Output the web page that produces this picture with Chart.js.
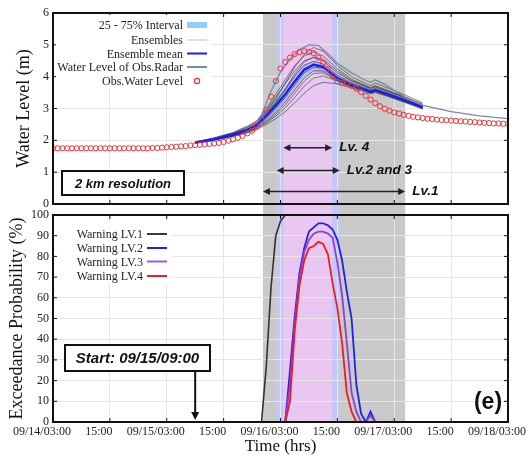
<!DOCTYPE html>
<html>
<head>
<meta charset="utf-8">
<script src="https://cdn.jsdelivr.net/npm/chart.js@4.4.0/dist/chart.umd.min.js"></script>
<style>
  html, body { margin: 0; padding: 0; background: #fff; }
  #wrap { position: relative; width: 530px; height: 459px; overflow: hidden; }
  #top { position: absolute; left: 0; top: 0; }
  #bot { position: absolute; left: 0; top: 206px; }
</style>
</head>
<body>
<div id="wrap">
  <canvas id="top" width="530" height="209"></canvas>
  <canvas id="bot" width="530" height="253"></canvas>
</div>
<script>
// time axis: hours after 09/14 03:00
const tickLabels = ["09/14/03:00", "15:00", "09/15/03:00", "15:00", "09/16/03:00", "15:00", "09/17/03:00", "15:00", "09/18/03:00"];
const forecastStart = 30; // 09/15 09:00

// warning periods (hours)
const lv1Band = [44.3, 74.3];
const lv23Band = [47.2, 60.5];
const lv4Band = [48.6, 58.9];

// observed water level, hourly from hour 0
const obsHours = Array.from({ length: 97 }, (_, i) => i);
const obsWater = [
  1.75, 1.75, 1.75, 1.75, 1.75, 1.75, 1.75, 1.75, 1.75, 1.75, 1.75, 1.75, 1.75, 1.75, 1.75, 1.75, 1.75, 1.75, 1.75, 1.75, 1.75,
  1.76, 1.76, 1.77, 1.78, 1.79, 1.80, 1.81, 1.82, 1.84, 1.85, 1.86, 1.87, 1.89, 1.90, 1.92, 1.95, 1.99, 2.03, 2.08, 2.14,
  2.22, 2.30, 2.45, 2.65, 2.95, 3.37, 3.86, 4.26, 4.46, 4.60, 4.71, 4.77, 4.80, 4.78, 4.74, 4.60, 4.43, 4.25, 4.03, 3.85,
  3.80, 3.77, 3.71, 3.62, 3.52, 3.40, 3.28, 3.17, 3.07, 2.99, 2.93, 2.88, 2.84, 2.80, 2.77, 2.74, 2.72, 2.70, 2.68, 2.67,
  2.65, 2.64, 2.63, 2.62, 2.61, 2.60, 2.59, 2.58, 2.57, 2.56, 2.55, 2.54, 2.53, 2.53, 2.52, 2.52
];

// ensemble forecast
const ensHours = [30, 34, 38, 41, 43, 45, 47, 49, 51, 53, 55, 57, 60, 63, 66, 67, 68, 71, 74, 78];
const ensMean = [1.93, 2.04, 2.18, 2.33, 2.48, 2.78, 3.10, 3.45, 3.85, 4.22, 4.38, 4.30, 3.96, 3.74, 3.59, 3.53, 3.58, 3.43, 3.27, 3.04];
const ensQ25 = [1.90, 1.99, 2.12, 2.25, 2.38, 2.62, 2.90, 3.22, 3.60, 3.98, 4.18, 4.14, 3.85, 3.66, 3.53, 3.47, 3.52, 3.37, 3.21, 2.99];
const ensQ75 = [1.96, 2.08, 2.24, 2.40, 2.58, 2.92, 3.28, 3.66, 4.05, 4.38, 4.50, 4.42, 4.06, 3.82, 3.66, 3.60, 3.65, 3.50, 3.33, 3.09];
const ensMembers = [
  [1.95, 2.08, 2.25, 2.45, 2.62, 3.00, 3.45, 3.90, 4.35, 4.65, 4.78, 4.65, 4.25, 3.92, 3.72, 3.66, 3.72, 3.55, 3.38, 3.14],
  [1.94, 2.06, 2.22, 2.40, 2.56, 2.90, 3.30, 3.80, 4.30, 4.70, 4.92, 4.80, 4.35, 4.00, 3.78, 3.72, 3.80, 3.62, 3.44, 3.18],
  [1.93, 2.05, 2.20, 2.36, 2.50, 2.82, 3.18, 3.58, 4.02, 4.36, 4.48, 4.40, 4.05, 3.80, 3.64, 3.58, 3.63, 3.48, 3.31, 3.07],
  [1.93, 2.04, 2.18, 2.33, 2.47, 2.76, 3.08, 3.45, 3.88, 4.25, 4.40, 4.33, 3.98, 3.76, 3.60, 3.54, 3.59, 3.44, 3.28, 3.05],
  [1.92, 2.03, 2.16, 2.30, 2.43, 2.70, 3.00, 3.35, 3.74, 4.12, 4.30, 4.26, 3.94, 3.72, 3.58, 3.52, 3.57, 3.42, 3.26, 3.03],
  [1.92, 2.02, 2.15, 2.28, 2.40, 2.62, 2.88, 3.20, 3.58, 3.96, 4.18, 4.18, 3.90, 3.70, 3.56, 3.50, 3.55, 3.40, 3.24, 3.02],
  [1.91, 2.01, 2.13, 2.25, 2.36, 2.55, 2.76, 3.02, 3.35, 3.70, 3.96, 4.02, 3.86, 3.68, 3.55, 3.49, 3.53, 3.38, 3.22, 3.00],
  [1.91, 2.00, 2.12, 2.23, 2.33, 2.50, 2.68, 2.90, 3.18, 3.48, 3.72, 3.82, 3.78, 3.64, 3.52, 3.46, 3.50, 3.36, 3.20, 2.98],
  [1.94, 2.07, 2.23, 2.42, 2.58, 2.94, 3.36, 3.78, 4.18, 4.50, 4.60, 4.50, 4.12, 3.86, 3.68, 3.62, 3.67, 3.52, 3.35, 3.10],
  [1.92, 2.03, 2.17, 2.31, 2.45, 2.72, 3.04, 3.40, 3.82, 4.18, 4.36, 4.30, 3.96, 3.74, 3.59, 3.53, 3.58, 3.43, 3.27, 3.04],
  [1.93, 2.05, 2.19, 2.35, 2.52, 2.85, 3.22, 3.62, 4.08, 4.46, 4.62, 4.55, 4.18, 3.88, 3.70, 3.64, 3.69, 3.53, 3.36, 3.12],
  [1.92, 2.02, 2.14, 2.27, 2.38, 2.58, 2.82, 3.12, 3.48, 3.86, 4.10, 4.12, 3.88, 3.69, 3.56, 3.50, 3.54, 3.39, 3.23, 3.01]
];

// water level driven by radar observation
const radarHours = [30, 34, 38, 41, 43, 44, 46, 48, 50, 52, 54, 56, 58, 60, 63, 66, 67, 68, 70, 74, 78, 84, 90, 96];
const radarLevel = [1.95, 2.05, 2.18, 2.33, 2.55, 2.80, 3.55, 4.15, 4.55, 4.85, 5.00, 4.98, 4.72, 4.42, 4.12, 3.88, 3.82, 3.90, 3.76, 3.38, 3.10, 2.90, 2.77, 2.68];

// exceedance probability (%), hourly from hour 42 to 78
const probHours = Array.from({ length: 37 }, (_, i) => 42 + i);
const probLv1 = [0, 0, 0, 27, 65, 90, 97, 100, 100, 100, 100, 100, 100, 100, 100, 100, 100, 100, 100, 100, 100, 100, 100, 100, 100, 100, 100, 100, 100, 100, 100, 100, 100, 100, 100, 100, 100];
const probLv2 = [0, 0, 0, 0, 0, 0, 0, 0, 25, 51, 72, 84, 92, 94, 96, 96, 95, 93, 88, 78, 63, 50, 18, 4, 0, 5, 0, 0, null, null, null, null, null, null, null, null, null];
const probLv3 = [0, 0, 0, 0, 0, 0, 0, 0, 18, 48, 70, 82, 88, 91, 92, 92, 91, 89, 77, 61, 38, 14, 5, 0, 0, 3, 0, null, null, null, null, null, null, null, null, null, null];
const probLv4 = [0, 0, 0, 0, 0, 0, 0, 0, 10, 44, 66, 78, 84, 85, 87, 86, 81, 67, 55, 38, 14, 5, 0, null, null, null, null, null, null, null, null, null, null, null, null, null, null];

const serif = "'Liberation Serif', 'Times New Roman', serif";
const sans = "'Liberation Sans', Arial, sans-serif";

function pts(xs, ys) {
  return xs.map((h, i) => ({ x: h, y: ys[i] }));
}

function bands(extendTop) {
  return {
    id: "bands",
    beforeDraw(chart) {
      const { ctx, chartArea: a, scales: { x } } = chart;
      const y0 = extendTop ? 0 : a.top;
      const y1 = extendTop ? a.bottom : chart.height;
      ctx.save();
      [[lv1Band, "#c9c9c9"], [lv23Band, "#c4c8f8"], [lv4Band, "#e9c7f0"]].forEach(([b, c]) => {
        const x0 = x.getPixelForValue(b[0]);
        const x1 = x.getPixelForValue(b[1]);
        ctx.fillStyle = c;
        ctx.fillRect(x0, y0, x1 - x0, y1 - y0);
      });
      ctx.restore();
    }
  };
}

function drawFrame(chart) {
  const { ctx, chartArea: a, scales: { x, y } } = chart;
  ctx.save();
  ctx.strokeStyle = "#111";
  ctx.lineWidth = 2;
  ctx.strokeRect(a.left, a.top, a.right - a.left, a.bottom - a.top);
  ctx.lineWidth = 1;
  ctx.beginPath();
  x.ticks.forEach(t => {
    const px = x.getPixelForValue(t.value);
    ctx.moveTo(px, a.top); ctx.lineTo(px, a.top + 4);
    ctx.moveTo(px, a.bottom); ctx.lineTo(px, a.bottom - 4);
  });
  y.ticks.forEach(t => {
    const py = y.getPixelForValue(t.value);
    ctx.moveTo(a.right, py); ctx.lineTo(a.right - 4, py);
    ctx.moveTo(a.left, py); ctx.lineTo(a.left + 4, py);
  });
  ctx.stroke();
  ctx.restore();
}

function head(ctx, x, y, dir) {
  ctx.beginPath();
  ctx.moveTo(x, y);
  ctx.lineTo(x - dir * 7, y - 3.5);
  ctx.lineTo(x - dir * 7, y + 3.5);
  ctx.closePath();
  ctx.fill();
}

function dblArrow(ctx, x0, x1, y) {
  ctx.beginPath();
  ctx.moveTo(x0 + 3, y);
  ctx.lineTo(x1 - 3, y);
  ctx.stroke();
  head(ctx, x0, y, -1);
  head(ctx, x1, y, 1);
}

function boxText(ctx, x, y, w, h, text, size) {
  ctx.fillStyle = "#fff";
  ctx.fillRect(x, y, w, h);
  ctx.strokeStyle = "#111";
  ctx.lineWidth = 2;
  ctx.strokeRect(x, y, w, h);
  ctx.fillStyle = "#111";
  ctx.font = "italic bold " + size + "px " + sans;
  ctx.textAlign = "center";
  ctx.textBaseline = "middle";
  ctx.fillText(text, x + w / 2, y + h / 2 + 1);
}

const topDecor = {
  id: "topDecor",
  afterDatasetsDraw(chart) {
    drawFrame(chart);
    const { ctx, scales: { x, y } } = chart;
    ctx.save();
    // legend
    ctx.fillStyle = "#fff";
    ctx.fillRect(56, 15, 156, 73);
    const items = [
      ["25 - 75% Interval", "rect", "#8fd0f8"],
      ["Ensembles", "line", "#dedede"],
      ["Ensemble mean", "line", "#1a1aff"],
      ["Water Level of Obs.Radar", "line", "#7d8ca6"],
      ["Obs.Water Level", "circle", "#f0303a"]
    ];
    const rows = [25, 40, 53.5, 67, 81];
    ctx.font = "12px " + serif;
    ctx.textAlign = "right";
    ctx.textBaseline = "middle";
    items.forEach((it, i) => {
      const ry = rows[i];
      ctx.fillStyle = "#222";
      ctx.fillText(it[0], 183, ry + 1);
      if (it[1] === "rect") {
        ctx.fillStyle = it[2];
        ctx.fillRect(187, ry - 3, 20, 6);
      } else if (it[1] === "line") {
        ctx.strokeStyle = it[2];
        ctx.lineWidth = 2;
        ctx.beginPath(); ctx.moveTo(187, ry); ctx.lineTo(207, ry); ctx.stroke();
      } else {
        ctx.strokeStyle = it[2];
        ctx.lineWidth = 1.2;
        ctx.beginPath(); ctx.arc(197, ry, 2.6, 0, Math.PI * 2); ctx.stroke();
      }
    });
    // warning arrows
    ctx.lineWidth = 1.5;
    const arrows = [[lv4Band, 1.77, "Lv. 4"], [lv23Band, 1.05, "Lv.2 and 3"], [lv1Band, 0.39, "Lv.1"]];
    arrows.forEach(([b, v, label]) => {
      const x0 = x.getPixelForValue(b[0]);
      const x1 = x.getPixelForValue(b[1]);
      const py = y.getPixelForValue(v);
      ctx.strokeStyle = "#222";
      ctx.fillStyle = "#222";
      dblArrow(ctx, x0, x1, py);
      ctx.fillStyle = "#111";
      ctx.font = "italic bold 13.5px " + sans;
      ctx.textAlign = "left";
      ctx.textBaseline = "middle";
      ctx.fillText(label, x1 + 7, py);
    });
    boxText(ctx, 62, 171, 122, 24, "2 km resolution", 13);
    ctx.restore();
  }
};

const botDecor = {
  id: "botDecor",
  afterDatasetsDraw(chart) {
    drawFrame(chart);
    const { ctx, chartArea: a, scales: { x } } = chart;
    ctx.save();
    ctx.fillStyle = "#fff";
    ctx.fillRect(58, 16, 114, 62);
    const items = [["Warning LV.1", "#3a3a3a"], ["Warning LV.2", "#2020ee"], ["Warning LV.3", "#a45ad8"], ["Warning LV.4", "#ee1c24"]];
    const rows = [28, 42, 55.5, 70];
    ctx.font = "12px " + serif;
    ctx.textAlign = "right";
    ctx.textBaseline = "middle";
    items.forEach((it, i) => {
      ctx.fillStyle = "#222";
      ctx.fillText(it[0], 143, rows[i] + 1);
      ctx.strokeStyle = it[1];
      ctx.lineWidth = 2;
      ctx.beginPath(); ctx.moveTo(147, rows[i]); ctx.lineTo(167, rows[i]); ctx.stroke();
    });
    // forecast start marker
    const sx = x.getPixelForValue(forecastStart);
    boxText(ctx, 65, 139, 145, 26, "Start: 09/15/09:00", 15);
    ctx.strokeStyle = "#111";
    ctx.fillStyle = "#111";
    ctx.lineWidth = 2;
    ctx.beginPath(); ctx.moveTo(sx, 165); ctx.lineTo(sx, a.bottom - 8); ctx.stroke();
    ctx.beginPath();
    ctx.moveTo(sx, a.bottom - 2);
    ctx.lineTo(sx - 4, a.bottom - 10);
    ctx.lineTo(sx + 4, a.bottom - 10);
    ctx.closePath();
    ctx.fill();
    ctx.font = "bold 23px " + sans;
    ctx.textAlign = "center";
    ctx.textBaseline = "middle";
    ctx.fillText("(e)", 488, 197);
    ctx.restore();
  }
};

const xBase = {
  type: "linear",
  min: 0,
  max: 96,
  grid: { color: "#e6e6e6", drawTicks: false },
  border: { display: false }
};

// top panel: water level
const topDatasets = [
  { data: pts(obsHours, obsWater), showLine: false, pointRadius: 2.6, pointBorderWidth: 1,
    pointBorderColor: "#f0303a", pointBackgroundColor: "rgba(0,0,0,0)", order: 0 },
  { data: pts(ensHours, ensMean), borderColor: "#1a1aff", borderWidth: 2.2, pointRadius: 0, order: 1 },
  { data: pts(radarHours, radarLevel), borderColor: "#7888a8", borderWidth: 1.3, pointRadius: 0, order: 2 },
  { data: pts(ensHours, ensQ75), borderWidth: 0, pointRadius: 0, fill: "+1",
    backgroundColor: "rgba(110,170,245,0.45)", order: 4 },
  { data: pts(ensHours, ensQ25), borderWidth: 0, pointRadius: 0, order: 4 }
];
ensMembers.forEach(m => {
  topDatasets.push({ data: pts(ensHours, m), borderColor: "rgba(35,35,35,0.55)", borderWidth: 1, pointRadius: 0, order: 3 });
});

new Chart(document.getElementById("top"), {
  type: "line",
  data: { datasets: topDatasets },
  options: {
    responsive: false,
    animation: false,
    events: [],
    layout: { padding: { top: 13, right: 22, left: 0, bottom: 0 } },
    plugins: { legend: { display: false }, tooltip: { enabled: false } },
    scales: {
      x: Object.assign({}, xBase, {
        ticks: { display: false, stepSize: 12 },
        afterFit: s => { s.height = 2; s.paddingLeft = 0; s.paddingRight = 0; }
      }),
      y: {
        min: 0,
        max: 6,
        grid: { color: "#e6e6e6", drawTicks: false },
        border: { display: false },
        ticks: { stepSize: 1, padding: 4, color: "#222", font: { family: serif, size: 12 } },
        title: { display: true, text: "Water Level (m)", color: "#111",
          font: { family: serif, size: 18 }, padding: { top: 13, bottom: 0 } },
        afterFit: s => { s.width = 53; s.paddingTop = 0; s.paddingBottom = 0; }
      }
    }
  },
  plugins: [bands(false), topDecor]
});

// bottom panel: exceedance probability
new Chart(document.getElementById("bot"), {
  type: "line",
  data: {
    datasets: [
      { data: pts(probHours, probLv4), borderColor: "#ee1c24", borderWidth: 1.8, pointRadius: 0 },
      { data: pts(probHours, probLv3), borderColor: "#9040d0", borderWidth: 1.8, pointRadius: 0 },
      { data: pts(probHours, probLv2), borderColor: "#2020ee", borderWidth: 1.8, pointRadius: 0 },
      { data: pts(probHours, probLv1), borderColor: "#333333", borderWidth: 1.6, pointRadius: 0 }
    ]
  },
  options: {
    responsive: false,
    animation: false,
    events: [],
    layout: { padding: { top: 9, right: 22, left: 0, bottom: 0 } },
    plugins: { legend: { display: false }, tooltip: { enabled: false } },
    scales: {
      x: Object.assign({}, xBase, {
        ticks: { stepSize: 12, padding: 3, labelOffset: -11, maxRotation: 0, autoSkip: false,
          color: "#222", font: { family: serif, size: 12 },
          callback: v => tickLabels[Math.round(v / 12)] },
        title: { display: true, text: "Time (hrs)", color: "#111",
          font: { family: serif, size: 17 }, padding: { top: 0, bottom: 2 } },
        afterFit: s => { s.height = 37; s.paddingLeft = 0; s.paddingRight = 0; }
      }),
      y: {
        min: 0,
        max: 100,
        grid: { color: "#e6e6e6", drawTicks: false },
        border: { display: false },
        ticks: { stepSize: 10, padding: 4, color: "#222", font: { family: serif, size: 12 } },
        title: { display: true, text: "Exceedance Probability (%)", color: "#111",
          font: { family: serif, size: 18 }, padding: { top: 6, bottom: 0 } },
        afterFit: s => { s.width = 53; s.paddingTop = 0; s.paddingBottom = 0; }
      }
    }
  },
  plugins: [bands(true), botDecor]
});
</script>
</body>
</html>
